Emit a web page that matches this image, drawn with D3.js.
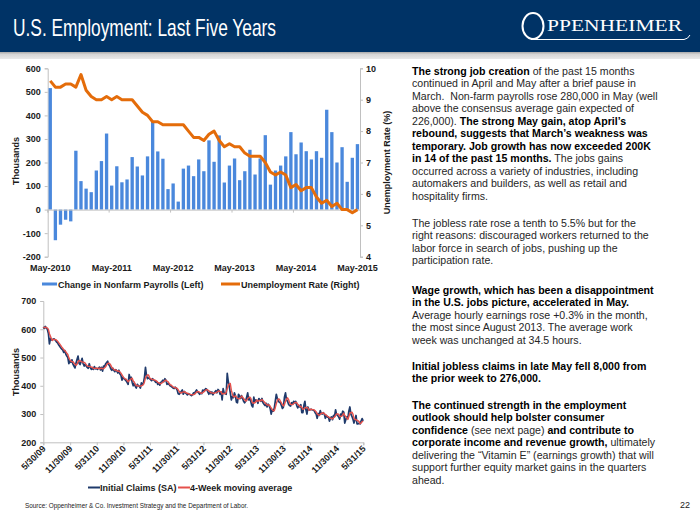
<!DOCTYPE html>
<html><head><meta charset="utf-8">
<script src="https://cdn.jsdelivr.net/npm/d3@7"></script>
<style>
html,body{margin:0;padding:0;background:#fff;}
svg{display:block;font-family:"Liberation Sans",Arial,sans-serif;}
text{white-space:pre;}
</style></head>
<body>
<svg id="c" width="700" height="525"></svg>
<script>
// ---------------- DATA ----------------
const monthStart = new Date(2010, 4, 1);
const payrolls = [516,-130,-64,-43,-50,250,121,89,74,166,206,323,102,184,116,128,223,183,145,226,373,247,216,87,111,34,174,187,142,213,163,294,203,315,115,187,217,125,163,254,149,217,316,106,166,187,226,329,235,285,248,213,248,220,424,329,200,265,118,220,278];
const unempRate = [9.6,9.4,9.4,9.5,9.5,9.4,9.8,9.3,9.1,9.0,9.0,9.1,9.0,9.1,9.0,9.0,9.0,8.8,8.6,8.5,8.3,8.3,8.2,8.2,8.2,8.2,8.2,8.0,7.8,7.8,7.7,7.9,8.0,7.7,7.5,7.6,7.5,7.5,7.3,7.2,7.2,7.2,7.0,6.7,6.6,6.7,6.6,6.2,6.3,6.1,6.2,6.2,5.9,5.7,5.8,5.6,5.7,5.5,5.5,5.4,5.5];
const topTickLabels = ["May-2010","May-2011","May-2012","May-2013","May-2014","May-2015"];
const leftTicks = [-200,-100,0,100,200,300,400,500,600];
const rightTicks = [4,5,6,7,8,9,10];

const claimsStart = new Date(2009, 4, 30);
const initialClaims = [
608,603,610,604,600,585,548,568,562,563,
566,565,560,555,552,545,540,535,530,527,
518,525,512,505,500,478,488,483,492,477,
470,463,480,493,505,480,475,485,497,478,
470,477,470,465,462,478,465,458,462,458,
468,460,462,458,462,466,456,465,452,470,
468,478,482,487,475,470,460,455,462,455,
450,457,452,445,455,442,437,420,430,425,
422,418,412,405,440,425,430,412,400,410,
398,392,405,400,398,392,410,405,410,430,
465,435,425,428,425,422,418,425,420,418,
412,415,405,410,402,412,415,420,415,425,
420,405,408,405,400,398,395,392,390,395,
392,385,372,370,375,380,385,370,380,375,
372,368,372,370,368,365,368,375,372,380,
385,378,375,370,375,372,385,382,385,390,
387,378,370,380,372,378,368,375,378,383,
375,387,383,370,378,350,390,375,372,370,
444,415,398,375,350,362,358,375,365,342,
340,370,365,355,365,355,345,340,345,360,
375,350,355,345,330,325,360,342,350,348,
338,355,350,345,355,340,335,330,338,325,
335,330,320,300,315,310,320,345,370,355,
345,342,340,330,320,325,360,375,350,345,
335,330,328,340,335,345,340,345,330,322,
330,325,333,305,305,330,345,315,300,325,
315,315,317,315,315,312,305,300,285,302,
295,312,302,300,305,300,285,295,289,290,
275,285,290,280,295,292,315,298,295,290,
282,300,295,310,307,268,280,290,285,310,
325,300,292,282,268,280,295,265,265,268,
265,275,284,276];
const bottomTickDates = ["2009-05-30","2009-11-30","2010-05-31","2010-11-30","2011-05-31","2011-11-30","2012-05-31","2012-11-30","2013-05-31","2013-11-30","2014-05-31","2014-11-30","2015-05-31"];
const bottomTickLabels = ["5/30/09","11/30/09","5/31/10","11/30/10","5/31/11","11/30/11","5/31/12","11/30/12","5/31/13","11/30/13","5/31/14","11/30/14","5/31/15"];
const bottomYTicks = [200,300,400,500,600,700];

// ---------------- DERIVED ----------------
const fmtMonth = d3.timeFormat("%b-%Y");
const months = payrolls.map((_, i) => fmtMonth(d3.timeMonth.offset(monthStart, i)));
const weeks = initialClaims.map((_, i) => d3.timeDay.offset(claimsStart, 7 * i));
const movingAvg = initialClaims.map((_, i) => d3.mean(initialClaims.slice(Math.max(0, i - 3), i + 1)));
const plainNum = d => String(d);

const svg = d3.select("#c");
const AX = "#c0c0c0", TXT = "#1a1a1a";

// ---------------- HEADER ----------------
const hdrGrad = svg.append("defs").append("linearGradient").attr("id","band").attr("x1",0).attr("x2",0).attr("y1",0).attr("y2",1);
hdrGrad.append("stop").attr("offset","0%").attr("stop-color","#a9a9a9");
hdrGrad.append("stop").attr("offset","35%").attr("stop-color","#d6d6d6");
hdrGrad.append("stop").attr("offset","100%").attr("stop-color","#e9e9e9");
svg.append("rect").attr("x",0).attr("y",0).attr("width",700).attr("height",52).attr("fill","#003366");
svg.append("rect").attr("x",0).attr("y",52).attr("width",700).attr("height",7).attr("fill","url(#band)");
svg.append("text").attr("x",13).attr("y",36).attr("fill","#fff").attr("font-size",24)
  .attr("textLength",263).attr("lengthAdjust","spacingAndGlyphs").text("U.S. Employment: Last Five Years");
// logo
svg.append("ellipse").attr("cx",533).attr("cy",26).attr("rx",10.5).attr("ry",13).attr("fill","none").attr("stroke","#fff").attr("stroke-width",2);
svg.append("text").attr("x",547).attr("y",31).attr("fill","#fff").attr("font-family","'Liberation Serif','DejaVu Serif',serif")
  .attr("font-size",17).attr("textLength",135).attr("lengthAdjust","spacingAndGlyphs").text("PPENHEIMER");
svg.append("path").attr("d","M531 39.5 L684 39.5 Q688 39 690 35").attr("fill","none").attr("stroke","#fff").attr("stroke-width",1);

// ---------------- TOP CHART ----------------
const tx0 = 47.7, tx1 = 360, ty0 = 68.3, ty1 = 256.7;
const xb = d3.scaleBand().domain(months).range([tx0, tx1]).paddingInner(0.35).paddingOuter(0.175);
const yL = d3.scaleLinear().domain([-200, 600]).range([ty1, ty0]);
const yR = d3.scaleLinear().domain([4, 10]).range([ty1, ty0]);
const topG = svg.append("g");

function styleAxisText(g){
  g.selectAll("text").attr("font-size",9).attr("font-weight","bold").attr("fill",TXT)
   .attr("font-family","'Liberation Sans',Arial,sans-serif");
}
// left axis
const gL = topG.append("g").attr("transform",`translate(${tx0},0)`)
  .call(d3.axisLeft(yL).tickValues(leftTicks).tickSize(3).tickPadding(4).tickFormat(plainNum));
gL.selectAll("path,line").attr("stroke",AX);
styleAxisText(gL);
// right axis
const gR = topG.append("g").attr("transform",`translate(${tx1},0)`)
  .call(d3.axisRight(yR).tickValues(rightTicks).tickSize(3).tickPadding(3).tickFormat(plainNum));
gR.selectAll("path,line").attr("stroke",AX);
styleAxisText(gR);

// bars
topG.append("g").selectAll("rect").data(payrolls).join("rect")
  .attr("x",(d,i)=>xb(months[i])).attr("width",xb.bandwidth())
  .attr("y",d=>Math.min(yL(d),yL(0))).attr("height",d=>Math.abs(yL(d)-yL(0)))
  .attr("fill","#4a88dc");

// category axis along zero
const gX = topG.append("g").attr("transform",`translate(0,${yL(0)})`)
  .call(d3.axisBottom(xb).tickValues(topTickLabels).tickSize(3).tickFormat(""));
gX.select("path").attr("stroke",AX);
gX.selectAll(".tick line").attr("stroke",AX).attr("transform",`translate(${-xb.step()/2},0)`);
// labels at bottom
topG.append("g").selectAll("text").data(topTickLabels).join("text")
  .attr("x",d=>xb(d)+xb.bandwidth()/2).attr("y",270.5).attr("text-anchor","middle")
  .attr("font-size",9).attr("font-weight","bold").attr("fill",TXT).text(d=>d);

// unemployment line
topG.append("path").datum(unempRate)
  .attr("d",d3.line().x((d,i)=>xb(months[i])+xb.bandwidth()/2).y(d=>yR(d)))
  .attr("fill","none").attr("stroke","#e46c0a").attr("stroke-width",3).attr("stroke-linejoin","round");

// axis titles
topG.append("text").attr("transform","translate(18.5,161) rotate(-90)").attr("text-anchor","middle")
  .attr("font-size",9).attr("font-weight","bold").attr("fill",TXT).text("Thousands");
topG.append("text").attr("transform","translate(389.5,162.5) rotate(-90)").attr("text-anchor","middle")
  .attr("font-size",9).attr("font-weight","bold").attr("fill",TXT).text("Unemployment Rate (%)");

// legend
topG.append("rect").attr("x",42).attr("y",282.5).attr("width",15).attr("height",3).attr("fill","#4a88dc");
topG.append("text").attr("x",58).attr("y",287.5).attr("font-size",9).attr("font-weight","bold").attr("fill",TXT).text("Change in Nonfarm Payrolls (Left)");
topG.append("line").attr("x1",221).attr("x2",240).attr("y1",284).attr("y2",284).attr("stroke","#e46c0a").attr("stroke-width",3);
topG.append("text").attr("x",241).attr("y",287.5).attr("font-size",9).attr("font-weight","bold").attr("fill",TXT).text("Unemployment Rate (Right)");

// ---------------- BOTTOM CHART ----------------
const bx0 = 43.3, bx1 = 363.3, by0 = 301, by1 = 442.3;
const parse = d3.timeParse("%Y-%m-%d");
const tickDates = bottomTickDates.map(parse);
const xt = d3.scaleTime().domain([claimsStart, tickDates[tickDates.length-1]]).range([bx0, bx1]);
const yb = d3.scaleLinear().domain([200, 700]).range([by1, by0]);
const bot = svg.append("g");

const gBY = bot.append("g").attr("transform",`translate(${bx0},0)`)
  .call(d3.axisLeft(yb).tickValues(bottomYTicks).tickSize(3).tickPadding(4).tickFormat(plainNum));
gBY.selectAll("path,line").attr("stroke",AX);
styleAxisText(gBY);

const gBX = bot.append("g").attr("transform",`translate(0,${by1})`)
  .call(d3.axisBottom(xt).tickValues(tickDates).tickSize(3).tickFormat(""));
gBX.selectAll("path,line").attr("stroke",AX);
bot.append("g").selectAll("text").data(bottomTickLabels).join("text")
  .attr("transform",(d,i)=>`translate(${xt(tickDates[i])+3},${by1+7}) rotate(-45)`)
  .attr("text-anchor","end").attr("font-size",9).attr("font-weight","bold").attr("fill",TXT).text(d=>d);

bot.append("path").datum(initialClaims)
  .attr("d",d3.line().x((d,i)=>xt(weeks[i])).y(d=>yb(d)))
  .attr("fill","none").attr("stroke","#1f3a6b").attr("stroke-width",1.7).attr("stroke-linejoin","round");
bot.append("path").datum(movingAvg)
  .attr("d",d3.line().x((d,i)=>xt(weeks[i])).y(d=>yb(d)))
  .attr("fill","none").attr("stroke","#e5504b").attr("stroke-width",1.4).attr("stroke-linejoin","round");

bot.append("text").attr("transform","translate(18.5,372) rotate(-90)").attr("text-anchor","middle")
  .attr("font-size",9).attr("font-weight","bold").attr("fill",TXT).text("Thousands");

bot.append("line").attr("x1",88).attr("x2",100).attr("y1",487.5).attr("y2",487.5).attr("stroke","#1f3a6b").attr("stroke-width",2);
bot.append("text").attr("x",100).attr("y",490.5).attr("font-size",9).attr("font-weight","bold").attr("fill",TXT).text("Initial Claims (SA)");
bot.append("line").attr("x1",178).attr("x2",190).attr("y1",487.5).attr("y2",487.5).attr("stroke","#e5504b").attr("stroke-width",2);
bot.append("text").attr("x",190).attr("y",490.5).attr("font-size",9).attr("font-weight","bold").attr("fill",TXT).text("4-Week moving average");

// ---------------- BODY TEXT ----------------
const B = true, R = false;
const paragraphs = [
 {y:75, lines:[
  [["The strong job creation",B],[" of the past 15 months",R]],
  [["continued in April and May after a brief pause in",R]],
  [["March.  Non-farm payrolls rose 280,000 in May (well",R]],
  [["above the consensus average gain expected of",R]],
  [["226,000). ",R],["The strong May gain, atop April’s",B]],
  [["rebound, suggests that March’s weakness was",B]],
  [["temporary. Job growth has now exceeded 200K",B]],
  [["in 14 of the past 15 months.",B],[" The jobs gains",R]],
  [["occurred across a variety of industries, including",R]],
  [["automakers and builders, as well as retail and",R]],
  [["hospitality firms.",R]]]},
 {y:227, lines:[
  [["The jobless rate rose a tenth to 5.5% but for the",R]],
  [["right reasons: discouraged workers returned to the",R]],
  [["labor force in search of jobs, pushing up the",R]],
  [["participation rate.",R]]]},
 {y:294, lines:[
  [["Wage growth, which has been a disappointment",B]],
  [["in the U.S. jobs picture, accelerated in May.",B]],
  [["Average hourly earnings rose +0.3% in the month,",R]],
  [["the most since August 2013. The average work",R]],
  [["week was unchanged at 34.5 hours.",R]]]},
 {y:370, lines:[
  [["Initial jobless claims in late May fell 8,000 from",B]],
  [["the prior week to 276,000.",B]]]},
 {y:409, lines:[
  [["The continued strength in the employment",B]],
  [["outlook should help bolster consumer",B]],
  [["confidence",B],[" (see next page) ",R],["and contribute to",B]],
  [["corporate income and revenue growth,",B],[" ultimately",R]],
  [["delivering the “Vitamin E” (earnings growth) that will",R]],
  [["support further equity market gains in the quarters",R]],
  [["ahead.",R]]]}
];
const body = svg.append("g").attr("font-size",10.6);
paragraphs.forEach(p => {
  p.lines.forEach((segs, li) => {
    const t = body.append("text").attr("x",412).attr("y",p.y + li*12.45);
    segs.forEach(([s,b]) => t.append("tspan").attr("font-weight", b ? "bold" : "normal")
      .attr("fill", b ? "#000" : "#262626").text(s));
  });
});

// ---------------- FOOTER ----------------
svg.append("text").attr("x",25).attr("y",508).attr("font-size",7.5).attr("fill","#222")
  .attr("font-family","'Liberation Sans Narrow','Liberation Sans',Arial,sans-serif")
  .attr("textLength",223).attr("lengthAdjust","spacingAndGlyphs")
  .text("Source: Oppenheimer & Co. Investment Strategy and the Department of Labor.");
svg.append("text").attr("x",690).attr("y",508).attr("text-anchor","end").attr("font-size",9).attr("fill","#222").text("22");
</script>
</body></html>
